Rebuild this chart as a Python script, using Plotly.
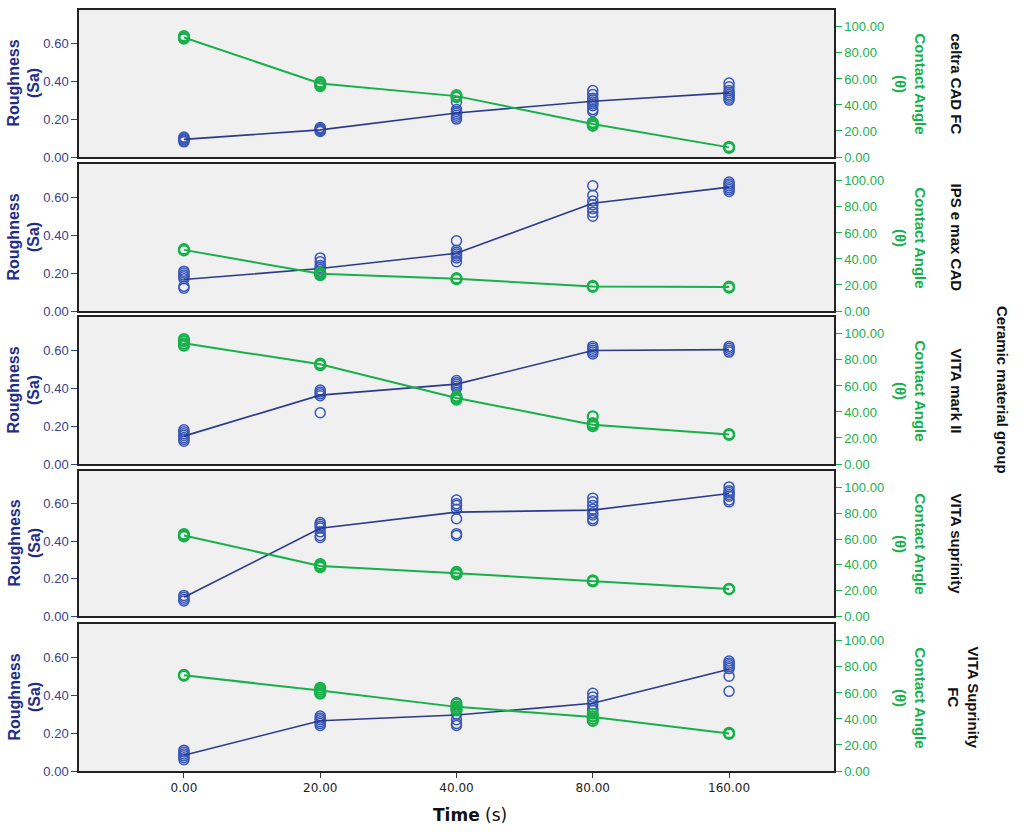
import plotly.graph_objects as go

# ---------------- data ----------------
times = ["0.00", "20.00", "40.00", "80.00", "160.00"]
materials = ["celtra CAD FC", "IPS e max CAD", "VITA mark II", "VITA suprinity", "VITA Suprinity<br>FC"]

# mean roughness (Sa) per time
rough_celtra = [0.093, 0.143, 0.232, 0.294, 0.338]
rough_ips = [0.166, 0.224, 0.304, 0.568, 0.653]
rough_mark = [0.147, 0.363, 0.421, 0.598, 0.603]
rough_supr = [0.100, 0.469, 0.555, 0.566, 0.655]
rough_suprfc = [0.083, 0.265, 0.295, 0.357, 0.536]

# mean contact angle per time
angle_celtra = [91.9, 56.5, 46.8, 25.3, 7.4]
angle_ips = [47.0, 28.6, 24.8, 18.9, 18.4]
angle_mark = [92.8, 76.6, 50.8, 30.2, 22.7]
angle_supr = [62.8, 39.0, 33.3, 27.4, 21.0]
angle_suprfc = [73.6, 61.8, 49.3, 41.5, 28.9]

# individual roughness specimens per time
pts_rough_celtra = [[0.08, 0.085, 0.09, 0.095, 0.10, 0.105],
                    [0.135, 0.14, 0.145, 0.15, 0.155],
                    [0.20, 0.21, 0.22, 0.23, 0.24, 0.25, 0.29],
                    [0.24, 0.25, 0.27, 0.28, 0.29, 0.30, 0.31, 0.33, 0.35],
                    [0.30, 0.31, 0.32, 0.33, 0.34, 0.35, 0.37, 0.39]]
pts_rough_ips = [[0.12, 0.13, 0.17, 0.18, 0.19, 0.20, 0.21],
                 [0.19, 0.20, 0.21, 0.22, 0.23, 0.24, 0.26, 0.28],
                 [0.26, 0.28, 0.29, 0.30, 0.31, 0.32, 0.37],
                 [0.50, 0.52, 0.54, 0.56, 0.58, 0.61, 0.66],
                 [0.63, 0.64, 0.65, 0.66, 0.67, 0.68]]
pts_rough_mark = [[0.12, 0.13, 0.14, 0.15, 0.16, 0.17, 0.18],
                  [0.27, 0.36, 0.37, 0.38, 0.39],
                  [0.40, 0.41, 0.42, 0.43, 0.44],
                  [0.58, 0.59, 0.60, 0.61, 0.62],
                  [0.59, 0.60, 0.61, 0.62]]
pts_rough_supr = [[0.08, 0.09, 0.10, 0.11],
                  [0.42, 0.43, 0.45, 0.47, 0.48, 0.49, 0.50],
                  [0.43, 0.44, 0.52, 0.57, 0.59, 0.60, 0.62],
                  [0.51, 0.52, 0.54, 0.55, 0.57, 0.59, 0.61, 0.63],
                  [0.61, 0.62, 0.64, 0.65, 0.66, 0.67, 0.69]]
pts_rough_suprfc = [[0.06, 0.07, 0.08, 0.09, 0.10, 0.11],
                    [0.24, 0.25, 0.26, 0.27, 0.28, 0.29],
                    [0.24, 0.25, 0.27, 0.30, 0.32, 0.34, 0.36],
                    [0.32, 0.33, 0.35, 0.37, 0.39, 0.41],
                    [0.42, 0.50, 0.54, 0.55, 0.56, 0.57, 0.58]]

# individual contact-angle specimens per time
pts_angle_celtra = [[91.0, 92.0, 93.0], [54.5, 56.0, 57.5], [46.0, 47.5], [24.0, 25.5, 26.5], [7.0, 7.8]]
pts_angle_ips = [[46.5, 47.5], [27.5, 28.5, 29.5], [24.5, 25.2], [18.5, 19.3], [18.0, 18.8]]
pts_angle_mark = [[91.0, 92.5, 94.5, 96.0], [76.0, 77.2], [49.5, 50.8, 52.0], [29.0, 30.5, 31.5, 36.6], [22.3, 23.0]]
pts_angle_supr = [[62.0, 63.0, 63.8], [38.0, 39.0, 40.5], [32.5, 33.5, 34.5], [27.0, 27.8], [20.8, 21.2]]
pts_angle_suprfc = [[73.2, 74.0], [59.5, 61.0, 62.5, 64.0], [46.5, 48.0, 49.5, 51.5], [38.5, 40.0, 42.0, 44.0], [28.5, 29.3]]

rough_means = [rough_celtra, rough_ips, rough_mark, rough_supr, rough_suprfc]
angle_means = [angle_celtra, angle_ips, angle_mark, angle_supr, angle_suprfc]
rough_pts = [pts_rough_celtra, pts_rough_ips, pts_rough_mark, pts_rough_supr, pts_rough_suprfc]
angle_pts = [pts_angle_celtra, pts_angle_ips, pts_angle_mark, pts_angle_supr, pts_angle_suprfc]

rough_ticks = [0, 0.2, 0.4, 0.6]
angle_ticks = [0, 20, 40, 60, 80, 100]

# ---------------- style ----------------
W, H = 1024, 841
YS = H / 833.0          # vertical compensation of the capture
LEFT, RIGHT = 79, 834
panels_ref = [(10, 157), (164, 311), (317, 464), (471, 616), (624, 771)]
BLUE_LINE = "#2b3a8c"
BLUE_MK = "#3a58b8"
GREEN = "#17b04a"
TICK_BLUE = "#34428a"
BG = "#f0f0f0"


def py(px):
    return 1 - px * YS / H


fig = go.Figure()
layout = dict(width=W, height=H, margin=dict(l=0, r=0, t=0, b=0),
              paper_bgcolor="white", plot_bgcolor=BG, showlegend=False,
              font=dict(family="Liberation Sans, Arial", size=12))
annotations = []

idx = list(range(len(times)))

for k in range(5):
    xname = "x" if k == 0 else f"x{k + 1}"
    yl = "y" if k == 0 else f"y{2 * k + 1}"
    yr = f"y{2 * k + 2}"
    xs, ys = [], []
    for i, p in enumerate(rough_pts[k]):
        xs += [idx[i]] * len(p)
        ys += p
    xa, ya = [], []
    for i, p in enumerate(angle_pts[k]):
        xa += [idx[i]] * len(p)
        ya += p
    fig.add_trace(go.Scatter(x=xa, y=ya, mode="markers", xaxis=xname, yaxis=yr,
                             marker=dict(symbol="circle-open", size=10, color=GREEN, line=dict(width=2.2, color=GREEN))))
    fig.add_trace(go.Scatter(x=idx, y=angle_means[k], mode="lines", xaxis=xname, yaxis=yr,
                             line=dict(color=GREEN, width=2)))
    fig.add_trace(go.Scatter(x=xs, y=ys, mode="markers", xaxis=xname, yaxis=yl,
                             marker=dict(symbol="circle-open", size=10, color=BLUE_MK, line=dict(width=1.5, color=BLUE_MK))))
    fig.add_trace(go.Scatter(x=idx, y=rough_means[k], mode="lines", xaxis=xname, yaxis=yl,
                             line=dict(color=BLUE_LINE, width=1.6)))

    top, bot = panels_ref[k]
    dom = [py(bot), py(top)]
    last = (k == 4)
    layout["xaxis" if k == 0 else f"xaxis{k + 1}"] = dict(
        domain=[LEFT / W, RIGHT / W], anchor=yl, range=[-0.77, 4.77],
        tickvals=idx, ticktext=times, showticklabels=last,
        ticks="outside" if last else "", ticklen=5, tickcolor="#333",
        tickfont=dict(family="DejaVu Sans", size=12, color="#222"),
        showline=True, mirror=True, linecolor="#222", linewidth=1.5,
        showgrid=False, zeroline=False)
    layout["yaxis" if k == 0 else f"yaxis{2 * k + 1}"] = dict(
        domain=dom, anchor=xname, range=[0, 0.775], side="left",
        tickvals=rough_ticks, tickformat=".2f", ticks="outside", ticklen=6,
        tickcolor=TICK_BLUE, tickfont=dict(size=13, color=TICK_BLUE),
        showline=True, mirror=True, linecolor="#222", linewidth=1.5,
        showgrid=False, zeroline=False)
    layout[f"yaxis{2 * k + 2}"] = dict(
        domain=dom, anchor=xname, overlaying=yl, range=[0, 113], side="right",
        tickvals=angle_ticks, tickformat=".2f", ticks="outside", ticklen=6,
        tickcolor=GREEN, tickfont=dict(size=13, color=GREEN),
        showline=True, linecolor="#222", linewidth=1.5,
        showgrid=False, zeroline=False)

    yc = py((top + bot) / 2)
    annotations.append(dict(text="<b>Roughness<br>(Sa)</b>", x=24 / W, y=yc, xref="paper", yref="paper",
                            textangle=-90, showarrow=False, xanchor="center", yanchor="middle",
                            font=dict(size=16, color="#1f2e86", family="Liberation Sans, Arial")))
    annotations.append(dict(text="<b>Contact Angle<br>(θ)</b>", x=910 / W, y=yc, xref="paper", yref="paper",
                            textangle=90, showarrow=False, xanchor="center", yanchor="middle",
                            font=dict(size=15, color=GREEN, family="Liberation Sans, Arial")))
    annotations.append(dict(text="<b>" + materials[k] + "</b>", x=(956 if k < 4 else 963) / W, y=yc,
                            xref="paper", yref="paper", textangle=90, showarrow=False,
                            xanchor="center", yanchor="middle",
                            font=dict(size=15, color="#111", family="Liberation Sans, Arial")))

annotations.append(dict(text="<b>Ceramic material group</b>", x=1003 / W, y=py(390), xref="paper", yref="paper",
                        textangle=90, showarrow=False, xanchor="center", yanchor="middle",
                        font=dict(size=15, color="#111", family="Liberation Sans, Arial")))
annotations.append(dict(text="<b>Time</b> (s)", x=470 / W, y=py(815), xref="paper", yref="paper",
                        showarrow=False, xanchor="center", yanchor="middle",
                        font=dict(size=17, color="#111", family="DejaVu Sans")))
layout["annotations"] = annotations
fig.update_layout(**layout)
fig.write_html(
    "out.html",
    config={"displayModeBar": False},
    post_script=("document.documentElement.style.margin='0';"
                 "document.documentElement.style.overflow='hidden';"
                 "document.body.style.margin='0';"
                 "document.body.style.overflow='hidden';"),
)
